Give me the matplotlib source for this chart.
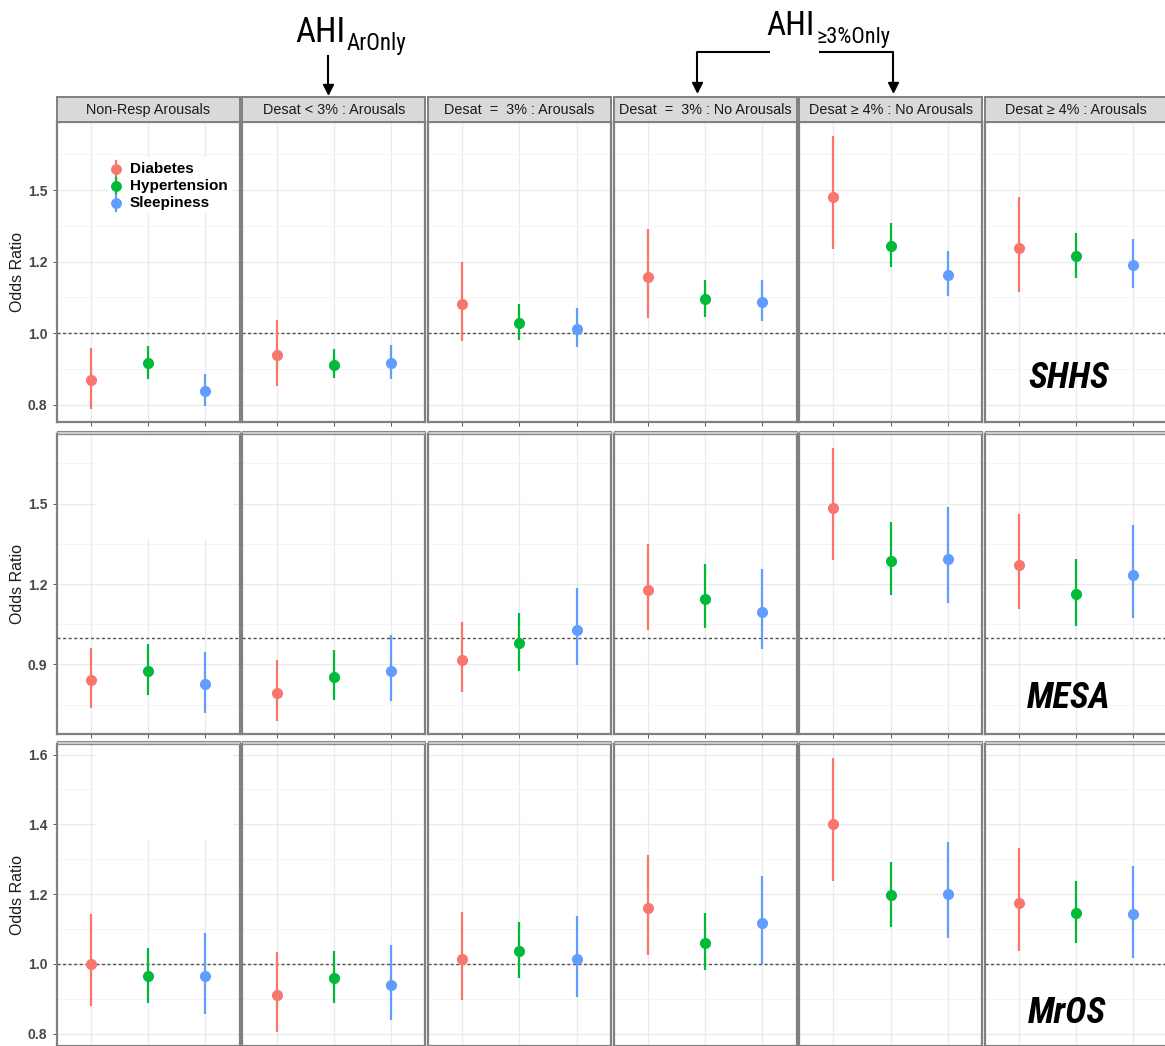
import matplotlib
matplotlib.use("Agg")
import matplotlib.pyplot as plt
from matplotlib import font_manager
from matplotlib.patches import Rectangle

# ---------------- data ----------------
outcomes = ["Diabetes", "Hypertension", "Sleepiness"]
colors = ["#F8766D", "#00BA38", "#619CFF"]
panels = ["Non-Resp Arousals", "Desat < 3% : Arousals", "Desat  =  3% : Arousals",
          "Desat  =  3% : No Arousals", "Desat \u2265 4% : No Arousals", "Desat \u2265 4% : Arousals"]
cohorts = ["SHHS", "MESA", "MrOS"]

# odds ratios, one list per panel: [Diabetes, Hypertension, Sleepiness]
shhs_or = [[0.835, 0.895, 0.797], [0.922, 0.890, 0.897], [1.101, 1.037, 1.016],
           [1.195, 1.119, 1.108], [1.477, 1.305, 1.203], [1.296, 1.268, 1.237]]
shhs_lo = [[0.736, 0.840, 0.744], [0.816, 0.842, 0.840], [0.972, 0.977, 0.951],
           [1.053, 1.056, 1.042], [1.293, 1.230, 1.128], [1.142, 1.193, 1.157]]
shhs_hi = [[0.949, 0.954, 0.856], [1.046, 0.944, 0.959], [1.250, 1.101, 1.087],
           [1.364, 1.186, 1.186], [1.689, 1.384, 1.288], [1.474, 1.350, 1.328]]

mesa_or = [[0.840, 0.874, 0.825], [0.793, 0.854, 0.876], [0.917, 0.978, 1.030],
           [1.179, 1.145, 1.097], [1.482, 1.286, 1.295], [1.270, 1.162, 1.234]]
mesa_lo = [[0.737, 0.785, 0.720], [0.690, 0.768, 0.765], [0.798, 0.877, 0.897],
           [1.030, 1.034, 0.958], [1.289, 1.159, 1.129], [1.107, 1.043, 1.074]]
mesa_hi = [[0.962, 0.975, 0.946], [0.916, 0.952, 1.009], [1.057, 1.091, 1.185],
           [1.350, 1.273, 1.256], [1.709, 1.432, 1.488], [1.460, 1.295, 1.421]]

mros_or = [[1.000, 0.964, 0.964], [0.912, 0.960, 0.938], [1.015, 1.036, 1.015],
           [1.159, 1.059, 1.117], [1.402, 1.196, 1.201], [1.174, 1.145, 1.143]]
mros_lo = [[0.878, 0.888, 0.856], [0.805, 0.888, 0.838], [0.897, 0.959, 0.906],
           [1.024, 0.982, 1.000], [1.237, 1.106, 1.073], [1.037, 1.061, 1.017]]
mros_hi = [[1.143, 1.046, 1.089], [1.035, 1.038, 1.055], [1.149, 1.119, 1.138],
           [1.313, 1.145, 1.253], [1.591, 1.293, 1.348], [1.332, 1.238, 1.280]]

major_ticks = {"SHHS": [0.75, 1.0, 1.25, 1.5], "MESA": [0.9, 1.2, 1.5],
               "MrOS": [0.8, 1.0, 1.2, 1.4, 1.6]}
minor_ticks = {"SHHS": [0.875, 1.125, 1.375, 1.625], "MESA": [0.75, 1.05, 1.35, 1.65],
               "MrOS": [0.9, 1.1, 1.3, 1.5]}

data = {"SHHS": (shhs_or, shhs_lo, shhs_hi),
        "MESA": (mesa_or, mesa_lo, mesa_hi),
        "MrOS": (mros_or, mros_lo, mros_hi)}

# ---------------- fonts ----------------
available = {f.name for f in font_manager.fontManager.ttflist}


def pick(*names):
    for n in names:
        if n in available:
            return n
    return "DejaVu Sans"


BASE = pick("Liberation Sans", "Arial", "DejaVu Sans")
NARROW = pick("Liberation Sans Narrow", "Arial Narrow", "Roboto Condensed",
              "Open Sans Condensed", BASE)
plt.rcParams["font.family"] = [BASE, "DejaVu Sans"]

# ---------------- layout (pixels) ----------------
W, H = 1165, 1046
fig = plt.figure(figsize=(W / 100, H / 100), dpi=100)

pan_w = 183.0
col_left = [56.7 + i * 185.6 for i in range(6)]
row_top = [122.3, 434.0, 744.0]
row_bot = [422.3, 734.3, 1045.6]
x = [1, 2, 3]

for r, coh in enumerate(cohorts):
    ors, los, his = data[coh]
    all_lo = min(min(v) for v in los)
    all_hi = max(max(v) for v in his)
    pad = 0.05 * (all_hi - all_lo)
    ylim = (all_lo - pad, all_hi + pad)
    for c in range(6):
        l = col_left[c]
        ax = fig.add_axes([l / W, 1 - row_bot[r] / H, pan_w / W,
                           (row_bot[r] - row_top[r]) / H])
        ax.set_xlim(0.4, 3.6)
        ax.set_ylim(*ylim)
        ax.set_xticks(x)
        ax.set_xticklabels([])
        ax.set_yticks(minor_ticks[coh], minor=True)
        if c == 0:
            ax.set_yticks(major_ticks[coh],
                          labels=["%.1f" % t for t in major_ticks[coh]],
                          fontsize=10, fontweight="bold", color="#474747")
        else:
            ax.set_yticks(major_ticks[coh], labels=[])
            ax.tick_params(axis="y", which="major", left=False)
        ax.tick_params(which="minor", length=0)
        ax.tick_params(which="major", length=3.2, width=0.7, color="#555555", pad=3.5)
        ax.grid(which="major", color="#EBEBEB", lw=1.0)
        ax.grid(which="minor", axis="y", color="#F4F4F4", lw=0.6)
        ax.set_axisbelow(True)
        for s in ax.spines.values():
            s.set_color("#808080")
            s.set_linewidth(1.6)
        ax.axhline(1.0, color="#505050", lw=1.0, ls=(0, (2.2, 1.8)), zorder=1.5)
        for k in range(3):
            ax.vlines(x[k], los[c][k], his[c][k], color=colors[k], lw=1.6, zorder=2)
            ax.plot(x[k], ors[c][k], "o", ms=7, color=colors[k], mec=colors[k], zorder=3)

    fig.text(18 / W, 1 - (row_top[r] + row_bot[r]) / 2 / H, "Odds Ratio", rotation=90,
             ha="center", va="center", fontsize=11.5, color="#1A1A1A")

# ---------------- overlay for strips / annotations ----------------
ov = fig.add_axes([0, 0, 1, 1])
ov.set_xlim(0, W)
ov.set_ylim(H, 0)
ov.axis("off")

for c in range(6):
    l = col_left[c]
    ov.add_patch(Rectangle((l, 96.5), pan_w, 25.5, facecolor="#D9D9D9",
                           edgecolor="#808080", lw=1.4))
    ov.text(l + pan_w / 2, 109.8, panels[c], ha="center", va="center",
            fontsize=10.4, color="#1A1A1A")
    for top in (430.5, 741.0):
        ov.add_patch(Rectangle((l, top), pan_w, 3.2, facecolor="#CFCFCF",
                               edgecolor="#8A8A8A", lw=0.8))

# white patches left over in panels (legend-removal artefacts)
ov.add_patch(Rectangle((97, 436), 136, 102, facecolor="white", edgecolor="none"))
ov.add_patch(Rectangle((97, 746), 136, 93, facecolor="white", edgecolor="none"))

# legend in SHHS first panel
ov.add_patch(Rectangle((108, 157), 124, 56, facecolor="white", edgecolor="none"))
for k, name in enumerate(outcomes):
    yk = 169 + 17 * k
    ov.plot([116, 116], [yk - 8, yk + 8], color=colors[k], lw=1.6)
    ov.plot(116, yk, "o", ms=6.8, color=colors[k])
    ov.text(130, yk, name, ha="left", va="center", fontsize=11,
            fontweight="bold", color="black")

# cohort labels
for name, (cx, cy) in zip(cohorts, [(1069, 378), (1069, 698), (1067, 1013)]):
    ov.text(cx, cy, name, ha="center", va="center", fontsize=26,
            fontweight="bold", fontstyle="italic", family=[NARROW, BASE], color="black")

# top annotations: main text + subscript placed right after it
fig.canvas.draw()
renderer = fig.canvas.get_renderer()


def sub_label(x0, base_y, main, sub, size, sub_size, drop):
    t = ov.text(x0, base_y, main, ha="left", va="baseline", fontsize=size,
                family=[NARROW, BASE, "DejaVu Sans"], color="black")
    bb = t.get_window_extent(renderer)
    ov.text(bb.x1 + 1.5, base_y + drop, sub, ha="left", va="baseline", fontsize=sub_size,
            family=[NARROW, BASE, "DejaVu Sans"], color="black")


sub_label(295, 41.7, "AHI", "ArOnly", 25, 16.5, 8.3)
sub_label(766.7, 35.0, "AHI", "\u22653%Only", 24, 16, 7.7)

arrow_kw = dict(color="black", lw=1.5, solid_capstyle="butt")
ov.plot([328.3, 328.3], [55, 86], **arrow_kw)
ov.plot(328.3, 88.5, marker="v", ms=7.5, color="black")
ov.plot([770, 696.7, 696.7], [51.7, 51.7, 84], **arrow_kw)
ov.plot(696.7, 86.8, marker="v", ms=7.5, color="black")
ov.plot([819.3, 892.7, 892.7], [51.7, 51.7, 84], **arrow_kw)
ov.plot(892.7, 86.8, marker="v", ms=7.5, color="black")

fig.savefig("out.png", dpi=100)
